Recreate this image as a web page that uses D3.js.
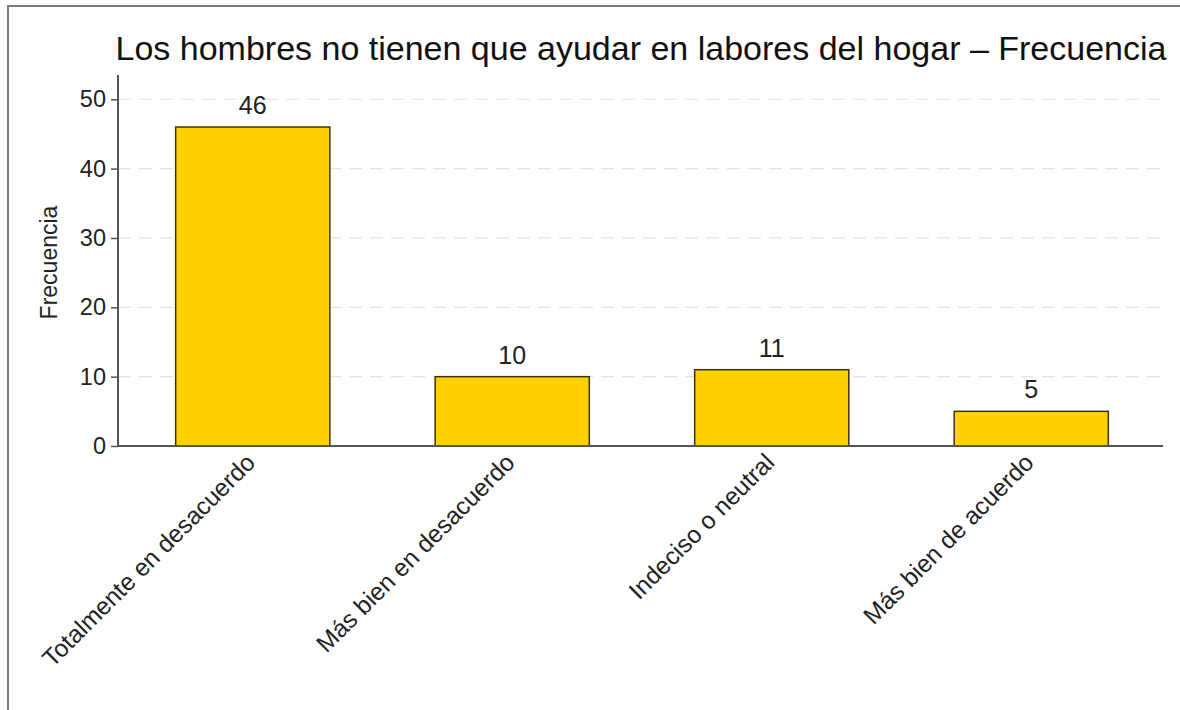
<!DOCTYPE html>
<html>
<head>
<meta charset="utf-8">
<script src="https://cdn.jsdelivr.net/npm/d3@7"></script>
<style>
  html, body { margin: 0; padding: 0; background: #fff; }
  svg { display: block; font-family: "Liberation Sans", Arial, Helvetica, sans-serif; }
</style>
</head>
<body>
<svg id="chart" width="1180" height="710"></svg>
<script>
const categories = ["Totalmente en desacuerdo", "Más bien en desacuerdo", "Indeciso o neutral", "Más bien de acuerdo"];
const values = [46, 10, 11, 5];
const yTicks = [0, 10, 20, 30, 40, 50];
const titleText = "Los hombres no tienen que ayudar en labores del hogar – Frecuencia";
const yLabel = "Frecuencia";

const svg = d3.select("#chart");

// outer frame
svg.append("rect")
  .attr("x", 8).attr("y", 6).attr("width", 1200).attr("height", 720)
  .attr("fill", "none").attr("stroke", "#7a7a7a").attr("stroke-width", 2);

const plotLeft = 118, plotRight = 1163, plotTop = 75, plotBottom = 446;

const x = d3.scaleBand().domain(categories).range([123, 1161])
  .paddingInner(0.406).paddingOuter(0.203);
const y = d3.scaleLinear().domain([0, 53.5]).range([plotBottom, plotTop]);

// gridlines
svg.append("g").selectAll("line").data(yTicks.filter(d => d > 0)).join("line")
  .attr("x1", plotLeft).attr("x2", plotRight)
  .attr("y1", d => y(d)).attr("y2", d => y(d))
  .attr("stroke", "#e3e3e3").attr("stroke-width", 1.2)
  .attr("stroke-dasharray", "13,8");

// bars
svg.append("g").selectAll("rect").data(values).join("rect")
  .attr("x", (d, i) => x(categories[i]))
  .attr("y", d => y(d))
  .attr("width", x.bandwidth())
  .attr("height", d => y(0) - y(d))
  .attr("fill", "#FFD100")
  .attr("stroke", "#3b3210").attr("stroke-width", 1.5);

// value labels
svg.append("g").selectAll("text").data(values).join("text")
  .attr("x", (d, i) => x(categories[i]) + x.bandwidth() / 2)
  .attr("y", d => y(d) - 13)
  .attr("text-anchor", "middle")
  .attr("font-size", 25)
  .attr("fill", "#222")
  .text(d => d);

// y axis
const yAxis = d3.axisLeft(y).tickValues(yTicks).tickSize(7).tickPadding(5);
const gy = svg.append("g").attr("transform", `translate(${plotLeft},0)`).call(yAxis);
gy.select(".domain").remove();
gy.append("line").attr("x1", 0).attr("x2", 0).attr("y1", plotTop).attr("y2", plotBottom)
  .attr("stroke", "#555").attr("stroke-width", 2);
gy.selectAll(".tick line").attr("stroke", "#555").attr("stroke-width", 1.5);
gy.selectAll(".tick text").attr("font-size", 23.5).attr("fill", "#222")
  .attr("font-family", "Liberation Sans, Arial, sans-serif");

// x axis
const xAxis = d3.axisBottom(x).tickSize(0).tickPadding(0);
const gx = svg.append("g").attr("transform", `translate(0,${plotBottom})`).call(xAxis);
gx.select(".domain").remove();
gx.append("line").attr("x1", plotLeft).attr("x2", plotRight).attr("y1", 0).attr("y2", 0)
  .attr("stroke", "#555").attr("stroke-width", 2);
gx.selectAll(".tick text")
  .attr("font-size", 24.5).attr("fill", "#222")
  .attr("font-family", "Liberation Sans, Arial, sans-serif")
  .attr("text-anchor", "end")
  .attr("dy", null)
  .attr("y", 0)
  .attr("transform", "translate(4,18) rotate(-45)");

// y label
svg.append("text")
  .attr("transform", `translate(57,${(plotTop + plotBottom) / 2 + 2}) rotate(-90)`)
  .attr("text-anchor", "middle")
  .attr("font-size", 23)
  .attr("fill", "#222")
  .text(yLabel);

// title
svg.append("text")
  .attr("x", 641).attr("y", 60)
  .attr("text-anchor", "middle")
  .attr("font-size", 34)
  .attr("fill", "#111")
  .text(titleText);
</script>
</body>
</html>
